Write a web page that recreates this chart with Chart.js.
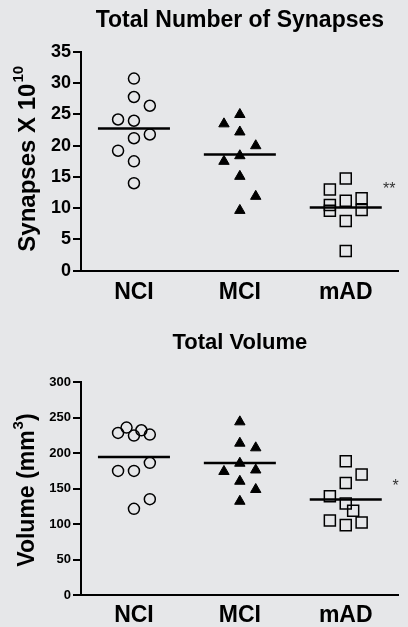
<!DOCTYPE html>
<html lang="en">
<head>
  <meta charset="UTF-8">
  <title>Total Number of Synapses / Total Volume</title>
  <script src="https://cdn.jsdelivr.net/npm/chart.js"></script>
  <style>
    body {
      margin: 0;
      background-color: #e6e7e9;
    }
    canvas {
      display: block;
    }
  </style>
</head>
<body>
  <canvas id="synChart" width="408" height="310"></canvas>
  <canvas id="volChart" width="408" height="317"></canvas>

  <script>
    const groups = ['NCI', 'MCI', 'mAD'];

    // Total number of synapses (x 10^10), one value per case
    const synNci = [30.75, 27.8, 26.4, 24.2, 24.0, 21.8, 21.2, 19.2, 17.5, 14.0];
    const synMci = [25.0, 23.5, 22.2, 20.0, 18.4, 17.5, 15.1, 11.9, 9.65];
    const synMad = [14.77, 13.0, 11.6, 11.2, 10.5, 9.7, 9.6, 7.94, 3.15];
    const synMeans = [22.75, 18.6, 10.1];
    // horizontal scatter of the dots, in category units
    const synNciDx = [0, 0, 0.15, -0.15, 0, 0.15, 0, -0.15, 0, 0];
    const synMciDx = [0, -0.15, 0, 0.15, 0, -0.15, 0, 0.15, 0];
    const synMadDx = [0, -0.15, 0.15, 0, -0.15, 0.15, -0.15, 0, 0];
    const synTicks = [0, 5, 10, 15, 20, 25, 30, 35];
    const synSig = ['**', 3.41, 13.65];

    // Total volume (mm3)
    const volNci = [235.8, 232.0, 228.3, 225.9, 224.5, 186.1, 174.8, 174.8, 135.0, 121.4];
    const volMci = [243.9, 213.8, 207.3, 185.6, 176.1, 174.0, 160.2, 148.6, 132.0];
    const volMad = [188.5, 169.7, 157.9, 139.2, 129.0, 118.6, 105.0, 102.2, 98.4];
    const volMeans = [194.5, 186, 134.6];
    const volNciDx = [-0.07, 0.07, -0.15, 0.15, 0, 0.15, -0.15, 0, 0.15, 0];
    const volMciDx = [0, 0, 0.15, 0, 0.15, -0.15, 0, 0.15, 0];
    const volMadDx = [0, 0.15, 0, -0.15, 0, 0.07, -0.15, 0.15, 0];
    const volTicks = [0, 50, 100, 150, 200, 250, 300];
    const volSig = ['*', 3.47, 158.5];

    Chart.defaults.font.family = '"Liberation Sans", Arial, sans-serif';
    Chart.defaults.color = '#000';

    const FONT = '"Liberation Sans", Arial, sans-serif';
    const halfLine = 0.34;

    const markStyles = [
      { pointStyle: 'circle', radius: 5.5, fill: 'rgba(0,0,0,0)', border: 1.5 },
      { pointStyle: 'triangle', radius: 6, fill: '#000', border: 1 },
      { pointStyle: 'rect', radius: 7.8, fill: 'rgba(0,0,0,0)', border: 1.5 }
    ];

    // titles, rotated axis title with superscript, significance stars
    const textPlugin = {
      id: 'texts',
      afterDraw(chart, args, o) {
        const { ctx, chartArea, scales } = chart;
        ctx.save();
        ctx.fillStyle = '#000';
        ctx.textAlign = 'center';
        ctx.textBaseline = 'alphabetic';
        ctx.font = 'bold ' + o.titleSize + 'px ' + FONT;
        ctx.fillText(o.title, (chartArea.left + chartArea.right) / 2, o.titleBase);

        // significance mark, centred on its glyph
        ctx.fillStyle = '#333';
        ctx.font = '16px ' + FONT;
        ctx.fillText(o.sig[0], scales.x.getPixelForValue(o.sig[1]),
          scales.y.getPixelForValue(o.sig[2]) + 9);

        ctx.fillStyle = '#000';
        ctx.translate(o.yBaseX, o.yStartY);
        ctx.rotate(-Math.PI / 2);
        ctx.textAlign = 'left';
        let pos = 0;
        o.yParts.forEach(p => {
          ctx.font = 'bold ' + (p.sup ? o.supSize : o.ySize) + 'px ' + FONT;
          ctx.fillText(p.text, pos, p.sup ? -o.supRaise : 0);
          pos += ctx.measureText(p.text).width + (p.sup ? 0 : 1);
        });
        ctx.restore();
      }
    };

    function buildChart(id, o) {
      const datasets = [];
      o.means.forEach((m, g) => {
        datasets.push({
          data: [{ x: g + 1 - halfLine, y: m }, { x: g + 1 + halfLine, y: m }],
          showLine: true,
          borderColor: '#000',
          borderWidth: 2.5,
          pointRadius: 0,
          order: 0
        });
      });
      o.series.forEach((s, g) => {
        const st = markStyles[g];
        datasets.push({
          data: s.values.map((v, i) => ({ x: g + 1 + s.dx[i], y: v })),
          pointStyle: st.pointStyle,
          pointRadius: st.radius,
          pointBackgroundColor: st.fill,
          pointBorderColor: '#000',
          pointBorderWidth: st.border,
          order: 1
        });
      });

      return new Chart(document.getElementById(id), {
        type: 'scatter',
        data: { datasets },
        options: {
          responsive: false,
          animation: false,
          events: [],
          layout: { padding: { top: o.top, right: o.right, left: 0, bottom: 0 } },
          plugins: {
            legend: { display: false },
            tooltip: { enabled: false },
            texts: o.texts
          },
          scales: {
            x: {
              type: 'linear',
              min: 0.5,
              max: 3.5,
              afterBuildTicks: s => { s.ticks = groups.map((g, i) => ({ value: i + 1 })); },
              ticks: {
                callback: v => groups[Math.round(v) - 1],
                font: { size: 23, weight: 'bold' },
                color: '#000',
                padding: o.xPad,
                maxRotation: 0,
                autoSkip: false
              },
              grid: { display: false, drawTicks: false },
              border: { display: true, color: '#000', width: 2 },
              afterFit: s => { s.height = o.xHeight; }
            },
            y: {
              min: o.ticks[0],
              max: o.ticks[o.ticks.length - 1],
              afterBuildTicks: s => { s.ticks = o.ticks.map(v => ({ value: v })); },
              ticks: {
                font: { size: o.yTickSize, weight: 'bold' },
                color: '#000',
                padding: 2
              },
              grid: { drawOnChartArea: false, drawTicks: true, tickLength: 8, color: '#000', lineWidth: 2 },
              border: { display: true, color: '#000', width: 2 },
              afterFit: s => { s.width = 81; }
            }
          }
        },
        plugins: [textPlugin]
      });
    }

    buildChart('synChart', {
      series: [
        { values: synNci, dx: synNciDx },
        { values: synMci, dx: synMciDx },
        { values: synMad, dx: synMadDx }
      ],
      means: synMeans,
      ticks: synTicks,
      yTickSize: 18,
      top: 52,
      right: 0,
      xHeight: 39.3,
      xPad: 8,
      texts: {
        title: 'Total Number of Synapses',
        titleSize: 23,
        titleBase: 26.7,
        sig: synSig,
        yParts: [{ text: 'Synapses X 10' }, { text: '10', sup: true }],
        ySize: 24,
        supSize: 15,
        supRaise: 11.5,
        yBaseX: 34.7,
        yStartY: 251.7
      }
    });

    buildChart('volChart', {
      series: [
        { values: volNci, dx: volNciDx },
        { values: volMci, dx: volMciDx },
        { values: volMad, dx: volMadDx }
      ],
      means: volMeans,
      ticks: volTicks,
      yTickSize: 13,
      top: 72,
      right: 5,
      xHeight: 32,
      xPad: 7,
      texts: {
        title: 'Total Volume',
        titleSize: 22,
        titleBase: 39,
        sig: volSig,
        yParts: [{ text: 'Volume (mm' }, { text: '3', sup: true }, { text: ')' }],
        ySize: 23,
        supSize: 15,
        supRaise: 10.5,
        yBaseX: 33.5,
        yStartY: 256.7
      }
    });
  </script>
</body>
</html>
